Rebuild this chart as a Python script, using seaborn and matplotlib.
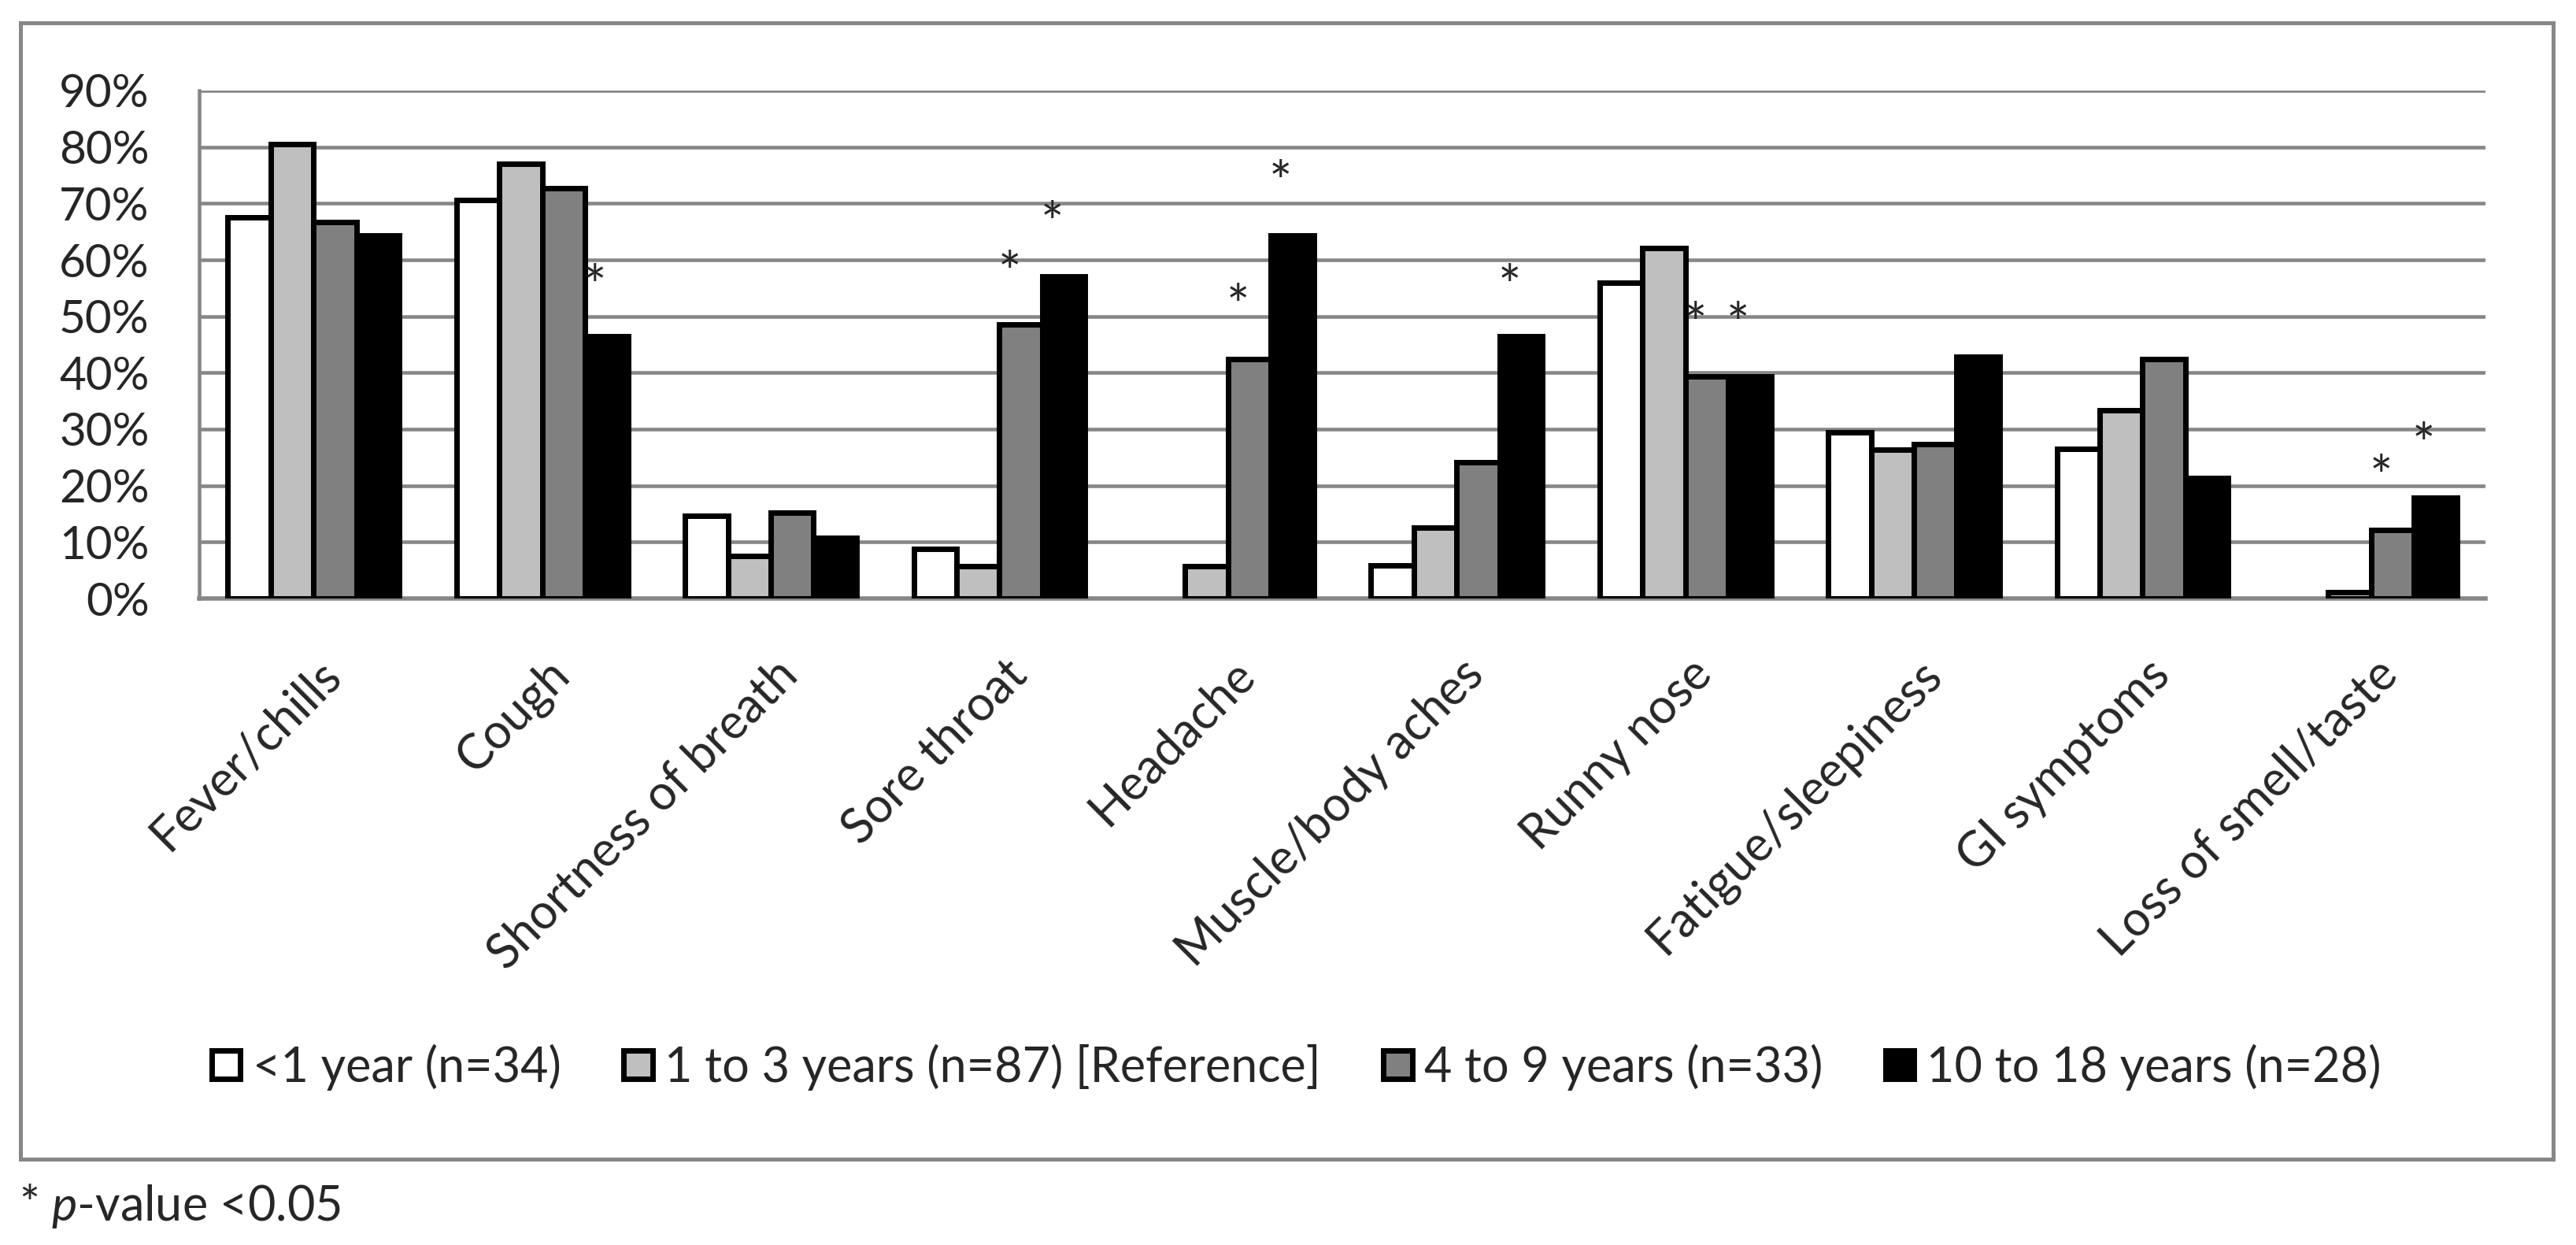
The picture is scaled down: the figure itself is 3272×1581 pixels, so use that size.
import matplotlib.pyplot as plt
import matplotlib.transforms as mtransforms
from matplotlib.patches import Rectangle, Patch
import seaborn as sns
import pandas as pd

# symptoms on the x axis
symptoms = ["Fever/chills", "Cough", "Shortness of breath", "Sore throat", "Headache",
            "Muscle/body aches", "Runny nose", "Fatigue/sleepiness", "GI symptoms",
            "Loss of smell/taste"]
groups = ["<1 year (n=34)", "1 to 3 years (n=87) [Reference]",
          "4 to 9 years (n=33)", "10 to 18 years (n=28)"]

# percent of each age group with the symptom
under1 = [67.6, 70.6, 14.7, 8.8, 0.0, 5.9, 55.9, 29.4, 26.5, 0.0]
age1to3 = [80.5, 77.0, 7.5, 5.7, 5.7, 12.6, 62.1, 26.4, 33.3, 1.1]
age4to9 = [66.7, 72.7, 15.2, 48.5, 42.4, 24.2, 39.4, 27.3, 42.4, 12.1]
age10to18 = [64.3, 46.4, 10.7, 57.1, 64.3, 46.4, 39.3, 42.9, 21.4, 17.9]
bar_colors = ["#FFFFFF", "#BFBFBF", "#808080", "#000000"]

# p<0.05 stars: symptom index, group index, height (%)
star_symptom = [1, 3, 3, 4, 4, 5, 6, 6, 9, 9]
star_group = [3, 2, 3, 2, 3, 3, 2, 3, 2, 3]
star_y = [58.1, 60.4, 69.2, 54.6, 76.5, 58.1, 51.4, 51.4, 24.3, 30.0]

rows = []
for g, vals in zip(groups, [under1, age1to3, age4to9, age10to18]):
    for s, v in zip(symptoms, vals):
        rows.append({"symptom": s, "group": g, "pct": v})
df = pd.DataFrame(rows)

sns.set_style("white")
plt.rcParams["font.family"] = ["Lato", "DejaVu Sans"]
plt.rcParams["mathtext.fontset"] = "custom"
plt.rcParams["mathtext.it"] = "Lato:italic"
plt.rcParams["mathtext.rm"] = "Lato"

grid_grey = "#878787"
W, H = 3273, 1581
fig = plt.figure(figsize=(W / 100, H / 100), dpi=100)
ax = fig.add_axes([253 / W, 1 - 760 / H, (3157 - 253) / W, (760 - 115) / H])

sns.barplot(data=df, x="symptom", y="pct", hue="group", order=symptoms,
            hue_order=groups, palette=bar_colors, edgecolor="black",
            linewidth=5, width=0.75, ax=ax, zorder=3)

# zero bars should not show their outline
for cont in ax.containers:
    for bar in cont:
        if bar.get_height() == 0:
            bar.set_visible(False)

# stars above the bars (baseline dropped so the glyph centre sits on the value)
star_fs = 50
star_drop = mtransforms.ScaledTranslation(0, -0.62 * star_fs / 72, fig.dpi_scale_trans)
for s, g, y in zip(star_symptom, star_group, star_y):
    bar = ax.containers[g][s]
    ax.text(bar.get_x() + bar.get_width() / 2 - 0.05, y, "*",
            ha="center", va="baseline", fontsize=star_fs, zorder=5,
            transform=ax.transData + star_drop)

ax.set_ylim(0, 90)
ax.set_xlim(-0.5, 9.5)
ax.set_yticks(range(0, 91, 10))
ax.set_yticklabels([f"{v}%" for v in range(0, 91, 10)])
ax.set_axisbelow(True)
ax.yaxis.grid(True, color=grid_grey, linewidth=3.3)
ax.tick_params(axis="y", length=16.5, width=3.3, color=grid_grey, pad=29, labelsize=42)
ax.set_xlabel("")
ax.set_ylabel("")

ax.set_xticks(range(len(symptoms)))
ax.set_xticklabels(symptoms, rotation=45, ha="right", va="center",
                   rotation_mode="anchor", fontsize=44)
ax.set_xticks([i - 0.5 for i in range(len(symptoms) + 1)], minor=True)
ax.tick_params(axis="x", which="major", length=0, pad=63)
ax.tick_params(axis="x", which="minor", length=9, width=3.3, color=grid_grey, direction="out")
shift = mtransforms.ScaledTranslation(0.25, 0, fig.dpi_scale_trans)
for lab in ax.get_xticklabels():
    lab.set_transform(lab.get_transform() + shift)

for side in ["top", "right"]:
    ax.spines[side].set_visible(False)
ax.spines["left"].set_color(grid_grey)
ax.spines["left"].set_linewidth(3.3)
ax.spines["bottom"].set_color(grid_grey)
ax.spines["bottom"].set_linewidth(4)

if ax.get_legend() is not None:
    ax.get_legend().remove()
handles = [Patch(facecolor=c, edgecolor="black", linewidth=5) for c in bar_colors]
fig.legend(handles, groups, ncol=4, loc="center", bbox_to_anchor=(0.503, 1 - 1355 / H),
           frameon=False, fontsize=44, handlelength=0.6, handleheight=0.54,
           handletextpad=0.25, columnspacing=1.3)

# outer chart frame
fig.add_artist(Rectangle((26 / W, 1 - 1472 / H), (3243 - 26) / W, (1472 - 29) / H,
                         transform=fig.transFigure, fill=False,
                         edgecolor=grid_grey, linewidth=3.6))

fig.text(24 / W, 1 - 1532 / H, "* $\\mathit{p}$-value <0.05", fontsize=44,
         ha="left", va="center")

fig.savefig("out.png", dpi=100)
